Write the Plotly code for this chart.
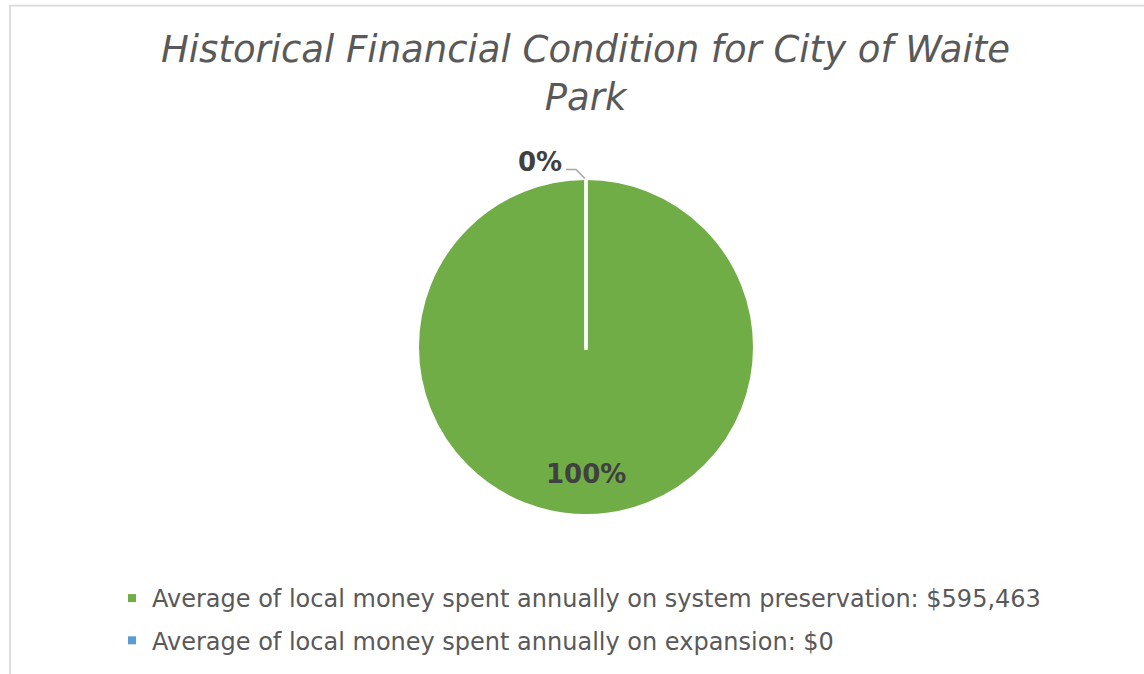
import math
import plotly.graph_objects as go

# Chart data
categories = [
    "Average of local money spent annually on system preservation: $595,463",
    "Average of local money spent annually on expansion: $0",
]
values = [595463, 0]
colors = ["#70AD47", "#5B9BD5"]
title_lines = ["Historical Financial Condition for City of Waite", "Park"]

W, H = 1144, 674
FONT = "Verdana, 'DejaVu Sans', sans-serif"
TEXT_GRAY = "#595959"
LABEL_DARK = "#404040"

# Pie geometry (pixels)
CX, CY, R = 586, 347, 168.5


def px_to_paper(x, y):
    return x / W, 1 - y / H


total = sum(values)
fracs = [v / total for v in values]

fig = go.Figure()

fig.add_trace(go.Pie(
    labels=categories,
    values=values,
    sort=False,
    direction="clockwise",
    rotation=0,
    marker=dict(colors=colors, line=dict(color="white", width=3)),
    textinfo="none",
    hoverinfo="label+percent",
    showlegend=False,
    domain=dict(x=[(CX - R) / W, (CX + R) / W],
                y=[1 - (CY + R) / H, 1 - (CY - R) / H]),
))

# Legend entries
for i, (name, col) in enumerate(zip(categories, colors)):
    fig.add_trace(go.Scatter(
        x=[None], y=[None], mode="markers", name=name,
        legendgroup=f"g{i}",
        marker=dict(symbol="square", size=8, color=col),
    ))

shapes = []
annotations = []
label_font = dict(family=FONT, size=26, color=LABEL_DARK)

# Slice boundaries and percentage labels
start = 0.0
for i, f in enumerate(fracs):
    end = start + f
    mid = (start + end) / 2
    ang0 = 2 * math.pi * start
    angm = 2 * math.pi * mid
    pct = f"{round(100 * f)}%"
    # white border at slice start (clockwise from 12 o'clock)
    bx = CX + R * math.sin(ang0)
    by = CY - R * math.cos(ang0)
    cx_p, cy_p = px_to_paper(CX, CY + 3)
    bx_p, by_p = px_to_paper(bx, by)
    shapes.append(dict(type="line", xref="paper", yref="paper",
                       x0=cx_p, y0=cy_p, x1=bx_p, y1=by_p,
                       line=dict(color="white", width=3), layer="above"))
    if f >= 0.05:
        lx = CX + 0.755 * R * math.sin(angm)
        ly = CY - 0.755 * R * math.cos(angm)
        ax, ay = px_to_paper(lx, ly)
        annotations.append(dict(x=ax, y=ay, xref="paper", yref="paper",
                                xanchor="center", yanchor="middle",
                                text=f"<b>{pct}</b>", showarrow=False,
                                font=label_font))
    else:
        ex = CX + R * math.sin(angm)
        ey = CY - R * math.cos(angm)
        pts = [(ex - 1, ey), (ex - 10, ey - 9), (ex - 20, ey - 9)]
        path = "M " + " L ".join(f"{px_to_paper(x, y)[0]},{px_to_paper(x, y)[1]}" for x, y in pts)
        shapes.append(dict(type="path", xref="paper", yref="paper", path=path,
                           line=dict(color="#A6A6A6", width=1.5)))
        ax, ay = px_to_paper(ex - 46, ey - 17)
        annotations.append(dict(x=ax, y=ay, xref="paper", yref="paper",
                                xanchor="center", yanchor="middle",
                                text=f"<b>{pct}</b>", showarrow=False,
                                font=label_font))
    start = end

# Chart title
tx, ty = px_to_paper(586, 26)
annotations.append(dict(x=tx, y=ty, xref="paper", yref="paper",
                        xanchor="center", yanchor="top", showarrow=False,
                        text="<br>".join(title_lines),
                        font=dict(family=FONT, size=37, color=TEXT_GRAY, style="italic")))

# Chart area border
shapes.append(dict(type="rect", xref="paper", yref="paper",
                   x0=10 / W, y0=-0.05, x1=1.05, y1=1 - 5.5 / H,
                   line=dict(color="#D9D9D9", width=1.75), fillcolor="rgba(0,0,0,0)"))

fig.update_layout(
    width=W, height=H,
    margin=dict(l=0, r=0, t=0, b=0),
    paper_bgcolor="white",
    plot_bgcolor="white",
    xaxis=dict(visible=False),
    yaxis=dict(visible=False),
    showlegend=True,
    legend=dict(x=112 / W, xanchor="left", y=1 - 576 / H, yanchor="top",
                font=dict(family=FONT, size=24, color=TEXT_GRAY),
                tracegroupgap=8, bgcolor="rgba(0,0,0,0)", itemclick=False),
    shapes=shapes,
    annotations=annotations,
)

fig.write_html("out.html")
